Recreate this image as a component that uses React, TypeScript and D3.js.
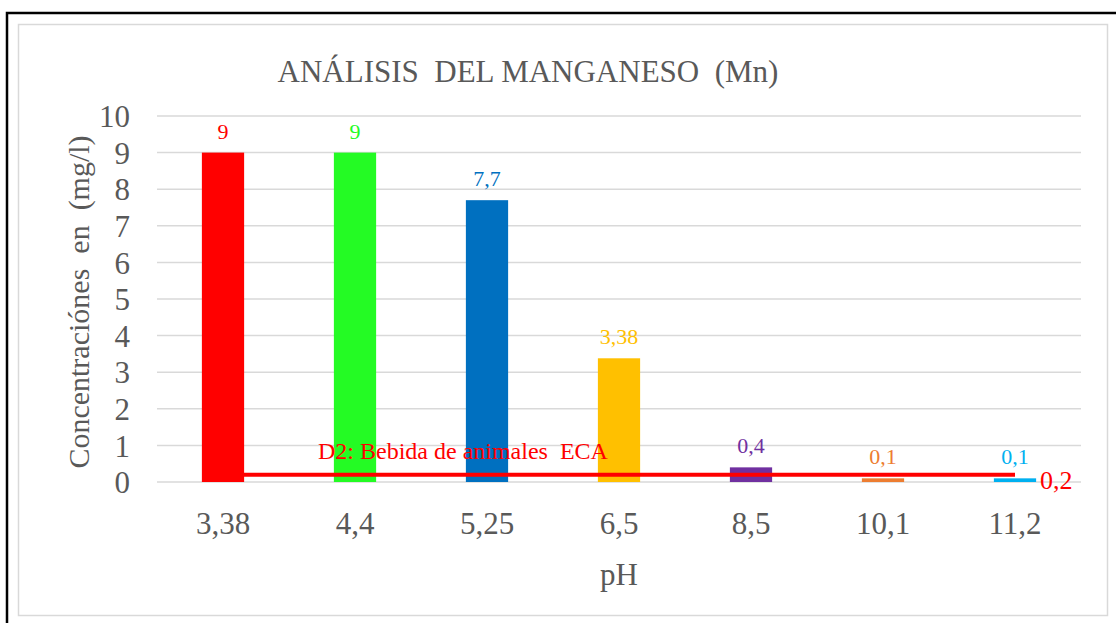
import React, { useEffect, useRef } from "react";
import * as d3 from "d3";

// pH categories and Mn concentration (mg/l)
const categories = ["3,38", "4,4", "5,25", "6,5", "8,5", "10,1", "11,2"];
const values = [9, 9, 7.7, 3.38, 0.4, 0.1, 0.1];
const valueLabels = ["9", "9", "7,7", "3,38", "0,4", "0,1", "0,1"];
const barColors = ["#ff0000", "#24fb24", "#0070c0", "#ffc000", "#7030a0", "#ed7d31", "#00b0f0"];
const limitValues = [0.2, 0.2, 0.2, 0.2, 0.2, 0.2, 0.2];
const yTicks = [0, 1, 2, 3, 4, 5, 6, 7, 8, 9, 10];

const FONT = "'Liberation Serif', 'Times New Roman', serif";

function App() {
  const ref = useRef<SVGSVGElement | null>(null);

  useEffect(() => {
    drawChart();
  }, []);

  const drawChart = () => {
    const svg = d3.select(ref.current);
    svg.selectAll("*").remove();

    const width = 1116, height = 623;
    const plot = { left: 157, right: 1081, top: 116, bottom: 482 };

    // outer black frame + inner chart frame
    svg.append("rect")
      .attr("x", 7).attr("y", 13)
      .attr("width", width + 10).attr("height", height + 10)
      .attr("fill", "white").attr("stroke", "black").attr("stroke-width", 2.5);
    svg.append("rect")
      .attr("x", 18.5).attr("y", 24.5)
      .attr("width", 1089).attr("height", 591)
      .attr("fill", "white").attr("stroke", "#d9d9d9").attr("stroke-width", 1.5);

    const x = d3.scaleBand().domain(categories).range([plot.left, plot.right]).padding(0);
    const y = d3.scaleLinear().domain([0, 10]).range([plot.bottom, plot.top]);
    const barW = x.bandwidth() * 0.32;

    // gridlines
    svg.append("g").selectAll("line").data(yTicks).enter().append("line")
      .attr("x1", plot.left).attr("x2", plot.right)
      .attr("y1", d => y(d)).attr("y2", d => y(d))
      .attr("stroke", "#d9d9d9").attr("stroke-width", 1.5);

    // y tick labels
    svg.append("g").selectAll("text").data(yTicks).enter().append("text")
      .attr("x", 130).attr("y", d => y(d))
      .attr("dy", "0.36em")
      .attr("text-anchor", "end")
      .attr("font-family", FONT).attr("font-size", 31)
      .attr("fill", "#595959")
      .text(d => String(d));

    // x tick labels
    svg.append("g").selectAll("text").data(categories).enter().append("text")
      .attr("x", d => (x(d) as number) + x.bandwidth() / 2)
      .attr("y", 534)
      .attr("text-anchor", "middle")
      .attr("font-family", FONT).attr("font-size", 31)
      .attr("fill", "#595959")
      .text(d => d);

    // bars
    svg.append("g").selectAll("rect").data(categories).enter().append("rect")
      .attr("x", d => (x(d) as number) + x.bandwidth() / 2 - barW / 2)
      .attr("y", (d, i) => y(values[i]))
      .attr("width", barW)
      .attr("height", (d, i) => plot.bottom - y(values[i]))
      .attr("fill", (d, i) => barColors[i]);

    // bar value labels
    svg.append("g").selectAll("text").data(categories).enter().append("text")
      .attr("x", d => (x(d) as number) + x.bandwidth() / 2)
      .attr("y", (d, i) => y(values[i]) - 14)
      .attr("text-anchor", "middle")
      .attr("font-family", FONT).attr("font-size", 22)
      .attr("fill", (d, i) => barColors[i])
      .text((d, i) => valueLabels[i]);

    // ECA limit line
    const line = d3.line<number>()
      .x((d, i) => (x(categories[i]) as number) + x.bandwidth() / 2)
      .y(d => y(d));
    svg.append("path")
      .datum(limitValues)
      .attr("d", line)
      .attr("fill", "none")
      .attr("stroke", "#ff0000")
      .attr("stroke-width", 4);

    svg.append("text")
      .attr("x", 318).attr("y", 459)
      .attr("font-family", FONT).attr("font-size", 24)
      .attr("fill", "#ff0000")
      .attr("xml:space", "preserve")
      .text("D2: Bebida de animales  ECA");

    svg.append("text")
      .attr("x", 1040).attr("y", 489)
      .attr("font-family", FONT).attr("font-size", 26)
      .attr("fill", "#ff0000")
      .text("0,2");

    // title
    svg.append("text")
      .attr("x", 528).attr("y", 82)
      .attr("text-anchor", "middle")
      .attr("font-family", FONT).attr("font-size", 31)
      .attr("fill", "#595959")
      .attr("xml:space", "preserve")
      .text("ANÁLISIS  DEL MANGANESO  (Mn)");

    // axis titles
    svg.append("text")
      .attr("transform", "translate(89," + ((plot.top + plot.bottom) / 2 + 3) + ") rotate(-90)")
      .attr("text-anchor", "middle")
      .attr("font-family", FONT).attr("font-size", 30)
      .attr("fill", "#595959")
      .attr("xml:space", "preserve")
      .text("Concentraciónes  en  (mg/l)");

    svg.append("text")
      .attr("x", (plot.left + plot.right) / 2).attr("y", 585)
      .attr("text-anchor", "middle")
      .attr("font-family", FONT).attr("font-size", 31)
      .attr("fill", "#595959")
      .text("pH");
  };

  return (
    <svg ref={ref} width={1116} height={623}
      style={{ position: "absolute", left: 0, top: 0, display: "block" }} />
  );
}

export default App;
